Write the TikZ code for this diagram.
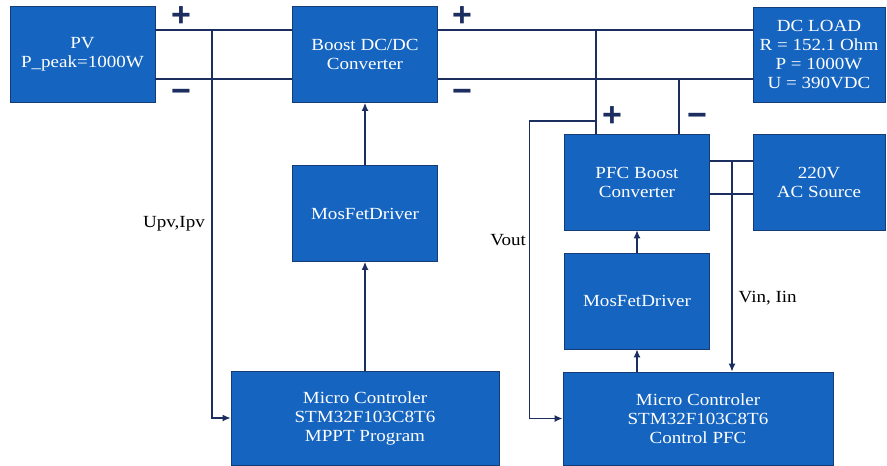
\documentclass[tikz,border=0pt]{standalone}
\usepackage{fontspec}
\setmainfont{Liberation Serif}[FakeStretch=1.12]
\setsansfont{Liberation Sans}
\usetikzlibrary{arrows.meta, positioning, calc}
\usepackage{xcolor}

\definecolor{boxblue}{RGB}{20,100,192}
\definecolor{boxedge}{RGB}{22,60,120}
\definecolor{wire}{RGB}{28,46,96}

\begin{document}
\begin{tikzpicture}[x=1pt, y=-1pt, font=\fontsize{17}{19}\selectfont,
  b/.style={draw=boxedge, line width=0.8pt, fill=boxblue, text=white, align=center, inner sep=0pt, minimum width=145pt, minimum height=96pt},
  bus/.style={line width=2.8pt, draw=wire},
  a/.style={-{Latex[length=8pt, width=7pt]}, line width=1.3pt, draw=wire},
  lbl/.style={inner sep=1.5pt, text=black},
  sgn/.style={text=wire, font=\sffamily\bfseries\fontsize{34}{34}\selectfont, inner sep=0pt, anchor=base}]
  \useasboundingbox (0,0) rectangle (887,466);
  \node[b] (pv) at (82.5,54.5) {PV\\P\_peak=1000W};
  \node[b] (dcdc) at (365,54.5) {Boost DC/DC\\Converter};
  \node[b, minimum width=132pt, minimum height=95pt] (load) at (819,54.5) {DC LOAD\\R = 152.1 Ohm\\P = 1000W\\U = 390VDC};
  \node[b] (drv) at (365,213.5) {MosFetDriver};
  \node[b, minimum width=268pt, minimum height=94pt] (mcu) at (365,418) {Micro Controler\\STM32F103C8T6\\MPPT Program};
  \node[b] (pfc) at (637,182) {PFC Boost\\Converter};
  \node[b, minimum width=132pt] (ac) at (819,182) {220V\\AC Source};
  \node[b] (drvp) at (637,301) {MosFetDriver};
  \node[b, minimum width=270pt, minimum height=93pt] (mcup) at (698,418.5) {Micro Controler\\STM32F103C8T6\\Control PFC};
  % DC bus, + on top and - below
  \draw[bus] ([yshift=24.5pt]pv.east) -- ([yshift=24.5pt]dcdc.west);
  \draw[bus] ([yshift=-24.5pt]pv.east) -- ([yshift=-24.5pt]dcdc.west);
  \draw[bus] ([yshift=24.5pt]dcdc.east) -- ([yshift=24.5pt]load.west);
  \draw[bus] ([yshift=-24.5pt]dcdc.east) -- ([yshift=-24.5pt]load.west);
  \coordinate (pvtap) at (212,30);
  \coordinate (pos) at (596,30);
  \coordinate (neg) at (679,79);
  \coordinate (vtap) at (596,121);
  \coordinate (actap) at (732,161);
  \draw[bus] (pos) -- (pos |- pfc.north);
  \draw[bus] (neg) -- (neg |- pfc.north);
  \draw[bus] ([yshift=21pt]pfc.east) -- ([yshift=21pt]ac.west);
  \draw[bus] ([yshift=-12pt]pfc.east) -- ([yshift=-12pt]ac.west);
  \node[sgn] (p1) at (181,26) {+};
  \node[sgn] (m1) at (181,102) {−};
  \node[sgn] (p2) at (462,26) {+};
  \node[sgn] (m2) at (462,102) {−};
  \node[sgn] (p3) at (612,126) {+};
  \node[sgn] (m3) at (697,126) {−};
  % measurements fed back to the two controllers
  \draw[a] (pvtap) |- node[lbl, pos=0.25, left=5pt] {Upv,Ipv} (mcu.west);
  \draw[a] (vtap) -| node[lbl, pos=0.7, left=1.5pt] {Vout} ([xshift=-33pt]mcup.west) -- (mcup.west);
  \draw[a] (actap) -- node[lbl, pos=0.65, right=4.5pt] {Vin, Iin} (actap |- mcup.north);
  % gate drive paths
  \draw[a] (mcu) -- (drv);
  \draw[a] (drv) -- (dcdc);
  \draw[a] (drvp.south |- mcup.north) -- (drvp);
  \draw[a] (drvp) -- (pfc);
\end{tikzpicture}
\end{document}
